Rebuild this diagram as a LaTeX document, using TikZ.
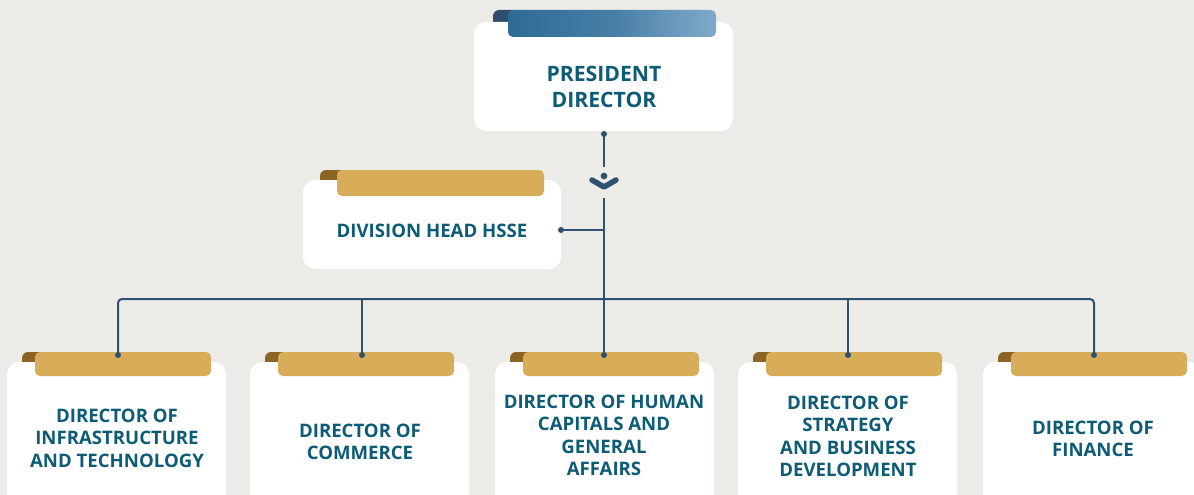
\documentclass[tikz,border=0pt]{standalone}
\usepackage{fontspec}
\usetikzlibrary{calc}
\setmainfont{Open Sans}
\definecolor{bg}{HTML}{EDEBE7}
\definecolor{gold}{HTML}{D7AD59}
\definecolor{brown}{HTML}{8C6424}
\definecolor{txt}{HTML}{0D5B74}
\definecolor{lnc}{HTML}{2F5170}
\definecolor{blueA}{HTML}{2E6B95}
\definecolor{blueB}{HTML}{80AACA}
\definecolor{capblue}{HTML}{2F4E6B}
\tikzset{
  card/.style={fill=white, rounded corners=12pt},
  tabbar/.style={fill=gold, rounded corners=5pt},
  tabcap/.style={fill=brown, rounded corners=6pt},
  lbl/.style={text=txt, align=center, font=\bfseries\fontsize{18.6}{22.5}\selectfont, inner sep=0pt},
  conn/.style={draw=lnc, line width=2pt},
  dotc/.style={fill=lnc},
}
\begin{document}
\begin{tikzpicture}[x=1pt,y=-1pt]
\fill[bg] (0,0) rectangle (1194,495);
\useasboundingbox (0,0) rectangle (1194,495);
\clip (0,0) rectangle (1194,495);
% president card
\fill[capblue, rounded corners=6pt] (493,10) rectangle (520,32);
\fill[card] (474,22) rectangle (733,131);
\shade[left color=blueA, right color=blueB, middle color=blueA!70!blueB, rounded corners=5pt] (508,10) rectangle (716,37);
\node[lbl, font=\bfseries\fontsize{21.2}{26}\selectfont] (pres) at (604,87) {PRESIDENT\\DIRECTOR};
% hsse card
\fill[tabcap] (320,170) rectangle (345,192);
\fill[card] (303,180) rectangle (561,269);
\fill[tabbar] (337,170) rectangle (544,196);
\node[lbl] (hsse) at (432,231) {DIVISION HEAD HSSE};
% bottom cards
\foreach \L/\n in {7/1,250/2,495/3,738/4,983/5}{
  \fill[tabcap] (\L+15,352) rectangle (\L+40,372);
  \fill[card] (\L,362) rectangle (\L+219,530);
  \fill[tabbar] (\L+28,352) rectangle (\L+204,376);
}
\node[lbl] (d1) at (117,438) {DIRECTOR OF\\INFRASTRUCTURE\\AND TECHNOLOGY};
\node[lbl] (d2) at (360,442) {DIRECTOR OF\\COMMERCE};
\node[lbl] (d3) at (604,435.5) {DIRECTOR OF HUMAN\\CAPITALS AND\\GENERAL\\AFFAIRS};
\node[lbl] (d4) at (848,436.5) {DIRECTOR OF\\STRATEGY\\AND BUSINESS\\DEVELOPMENT};
\node[lbl] (d5) at (1093,439) {DIRECTOR OF\\FINANCE};
% connector points
\coordinate (pdot) at (604,134);
\coordinate (pend) at (604,167);
\coordinate (mstart) at (604,198);
\coordinate (hdot) at (561,230);
\coordinate (hj) at (604,230);
\coordinate (bus) at (604,299);
\coordinate (t1) at (118,355);
\coordinate (t2) at (362,355);
\coordinate (t3) at (604,355);
\coordinate (t4) at (848,355);
\coordinate (t5) at (1094,355);
\coordinate (icon) at (604,176);
% connectors
\draw[conn] (pdot) -- (pend);
\draw[conn] (mstart) -- (t3);
\draw[conn] (hdot) -- (hj);
\draw[conn, rounded corners=4pt] (t1) |- (bus) -| (t5);
\draw[conn] (t2) -- (t2 |- bus);
\draw[conn] (t4) -- (t4 |- bus);
\foreach \p in {pdot,hdot,t1,t2,t3,t4,t5}{\fill[dotc] (\p) circle (3pt);}
% chevron icon
\fill[dotc] (icon) circle (3.4pt);
\draw[lnc, line width=5.5pt, line cap=round, line join=round] ($(icon)+(-12,4)$) -- ($(icon)+(0,11)$) -- ($(icon)+(12,4)$);
\end{tikzpicture}
\end{document}
